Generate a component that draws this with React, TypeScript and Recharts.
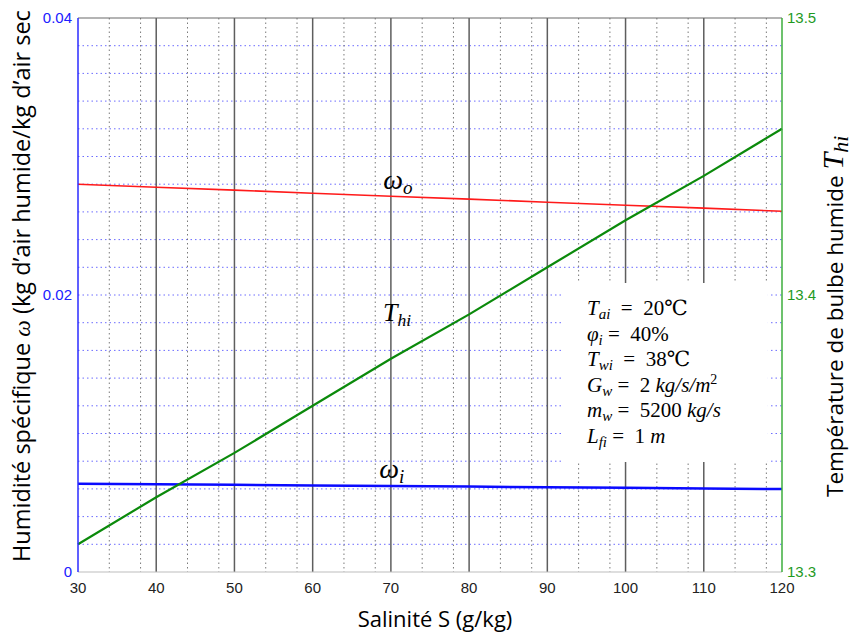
import { LineChart, Line, XAxis, YAxis, CartesianGrid, ReferenceLine, ReferenceArea, ReferenceDot } from "recharts";

// salinity (g/kg)
const salinity = [30, 40, 50, 60, 70, 80, 90, 100, 110, 120];
// outlet specific humidity
const omegaOut = [0.028, 0.02778, 0.02757, 0.02735, 0.02713, 0.02692, 0.0267, 0.02648, 0.02627, 0.02605];
// inlet specific humidity
const omegaIn = [0.00638, 0.00634, 0.0063, 0.00625, 0.00621, 0.00617, 0.00612, 0.00608, 0.00603, 0.00599];
// wet bulb temperature (right axis)
const tWetBulb = [13.31, 13.327, 13.343, 13.36, 13.377, 13.393, 13.41, 13.427, 13.443, 13.46];

const xTicks = [30, 40, 50, 60, 70, 80, 90, 100, 110, 120];
const leftTicks = [0, 0.02, 0.04];
const rightTicks = [13.3, 13.4, 13.5];

const majorX = [40, 50, 60, 70, 80, 90, 100, 110];
const minorX = Array.from({ length: 46 }, (_, i) => 30 + i * 2).filter((v) => v % 10 !== 0);
const minorY = Array.from({ length: 19 }, (_, i) => +(0.002 * (i + 1)).toFixed(3));

const data = salinity.map((s, i) => ({ s, wo: omegaOut[i], wi: omegaIn[i], th: tWetBulb[i] }));

const SERIF = "'Liberation Serif', 'DejaVu Serif', serif";
const SANS = "'Open Sans', Lato, sans-serif";
const TICK_FONT = "'Liberation Sans', Arial, sans-serif";
const NB = "\u00a0";

const mathLabel = (main: string, sub: string, size: number) => (props: any) => {
  const { x, y } = props.viewBox;
  return (
    <text x={x} y={y + 8} textAnchor="middle" fontFamily={SERIF} fontStyle="italic" fontSize={size} fill="#000">
      {main}
      <tspan fontSize={size * 0.68} dy={5}>{sub}</tspan>
    </text>
  );
};

// parameter rows: variable, subscript, value, italic unit, superscript
const params: [string, string, string, string, string][] = [
  ["T", "ai", `${NB}${NB}=${NB}${NB}20℃`, "", ""],
  ["φ", "i", `${NB}=${NB}${NB}40%`, "", ""],
  ["T", "wi", `${NB}${NB}=${NB}${NB}38℃`, "", ""],
  ["G", "w", `${NB}=${NB}${NB}2${NB}`, "kg/s/m", "2"],
  ["m", "w", `${NB}=${NB}${NB}5200${NB}`, "kg/s", ""],
  ["L", "fi", `${NB}=${NB}${NB}1${NB}`, "m", ""],
];

const paramBox = (props: any) => {
  const { x, y } = props.viewBox;
  return (
    <g>
      {params.map(([v, sub, val, unit, sup], i) => (
        <text key={i} x={x + 24} y={y + 32 + i * 25.6} fontFamily={SERIF} fontSize={21} fill="#000">
          <tspan fontStyle="italic">{v}</tspan>
          <tspan fontStyle="italic" fontSize={15} dy={4}>{sub}</tspan>
          <tspan dy={-4}>{val}</tspan>
          {unit && <tspan fontStyle="italic">{unit}</tspan>}
          {sup && <tspan fontSize={14} dy={-8}>{sup}</tspan>}
        </text>
      ))}
    </g>
  );
};

export default function App() {
  return (
    <div style={{ position: "absolute", left: 0, top: 0, width: 853, height: 635, background: "#fff" }}>
      <LineChart width={853} height={635} data={data} margin={{ top: 18, right: 70, bottom: 62, left: 77 }}>
        <XAxis
          dataKey="s"
          type="number"
          domain={[30, 120]}
          ticks={xTicks}
          height={1}
          tickLine={false}
          tickSize={6}
          tickMargin={4}
          axisLine={{ stroke: "#bdbdbd" }}
          tick={{ fill: "#222", fontSize: 15, fontFamily: TICK_FONT }}
        />
        <YAxis
          yAxisId="l"
          domain={[0, 0.04]}
          ticks={leftTicks}
          width={1}
          tickLine={false}
          tickSize={6}
          tickMargin={0}
          tickFormatter={(v: number) => (v === 0 ? "0" : v.toFixed(2))}
          axisLine={{ stroke: "#2b2bff", strokeWidth: 1.5 }}
          tick={{ fill: "#2020ff", fontSize: 15, fontFamily: TICK_FONT }}
        />
        <YAxis
          yAxisId="r"
          orientation="right"
          domain={[13.3, 13.5]}
          ticks={rightTicks}
          width={1}
          tickLine={false}
          tickSize={5}
          tickMargin={0}
          tickFormatter={(v: number) => v.toFixed(1)}
          axisLine={{ stroke: "#3cae3c", strokeWidth: 1.5 }}
          tick={{ fill: "#1f9a1f", fontSize: 15, fontFamily: TICK_FONT }}
        />

        {/* dotted minor grid, solid major verticals */}
        <CartesianGrid yAxisId="l" vertical={false} horizontalValues={minorY} stroke="#6c6cff" strokeDasharray="1.5 3" />
        <CartesianGrid yAxisId="l" horizontal={false} verticalValues={minorX} stroke="#7a7a7a" strokeDasharray="1.5 3" />
        <CartesianGrid yAxisId="l" horizontal={false} verticalValues={majorX} stroke="#5e5e5e" strokeWidth={1.5} />
        <ReferenceLine yAxisId="l" y={0.04} stroke="#6a6a6a" strokeWidth={1.2} />

        <ReferenceArea
          yAxisId="l"
          x1={92}
          x2={118.2}
          y1={0.00794}
          y2={0.02087}
          fill="#fff"
          fillOpacity={1}
          stroke="none"
          label={{ content: paramBox }}
        />

        <Line yAxisId="l" dataKey="wo" stroke="#ff1a1a" strokeWidth={1.6} dot={false} isAnimationActive={false} />
        <Line yAxisId="l" dataKey="wi" stroke="#0a0aff" strokeWidth={2.5} dot={false} isAnimationActive={false} />
        <Line yAxisId="r" dataKey="th" stroke="#0b8a0b" strokeWidth={2.2} dot={false} isAnimationActive={false} />

        <ReferenceDot yAxisId="l" x={70.9} y={0.0282} r={0} fill="none" stroke="none" label={{ content: mathLabel("ω", "o", 28) }} />
        <ReferenceDot yAxisId="l" x={70.8} y={0.0187} r={0} fill="none" stroke="none" label={{ content: mathLabel("T", "hi", 26) }} />
        <ReferenceDot yAxisId="l" x={70.1} y={0.00736} r={0} fill="none" stroke="none" label={{ content: mathLabel("ω", "i", 28) }} />
      </LineChart>

      <svg width={853} height={635} style={{ position: "absolute", left: 0, top: 0, pointerEvents: "none" }}>
        <text transform="translate(30,562) rotate(-90)" fontFamily={SANS} fontSize={23.5} fill="#000">
          Humidité spécifique <tspan fontFamily={SERIF} fontStyle="italic">ω</tspan> (kg d’air humide/kg d’air sec
        </text>
        <text transform="translate(843,497) rotate(-90)" fontFamily={SANS} fontSize={22.5} fill="#000">
          Température de bulbe humide <tspan fontFamily={SERIF} fontStyle="italic" fontSize={30}>T</tspan>
          <tspan fontFamily={SERIF} fontStyle="italic" fontSize={22} dy={5}>hi</tspan>
        </text>
        <text x={435} y={627} textAnchor="middle" fontFamily={SANS} fontSize={22} fill="#000">
          Salinité S (g/kg)
        </text>
      </svg>
    </div>
  );
}
